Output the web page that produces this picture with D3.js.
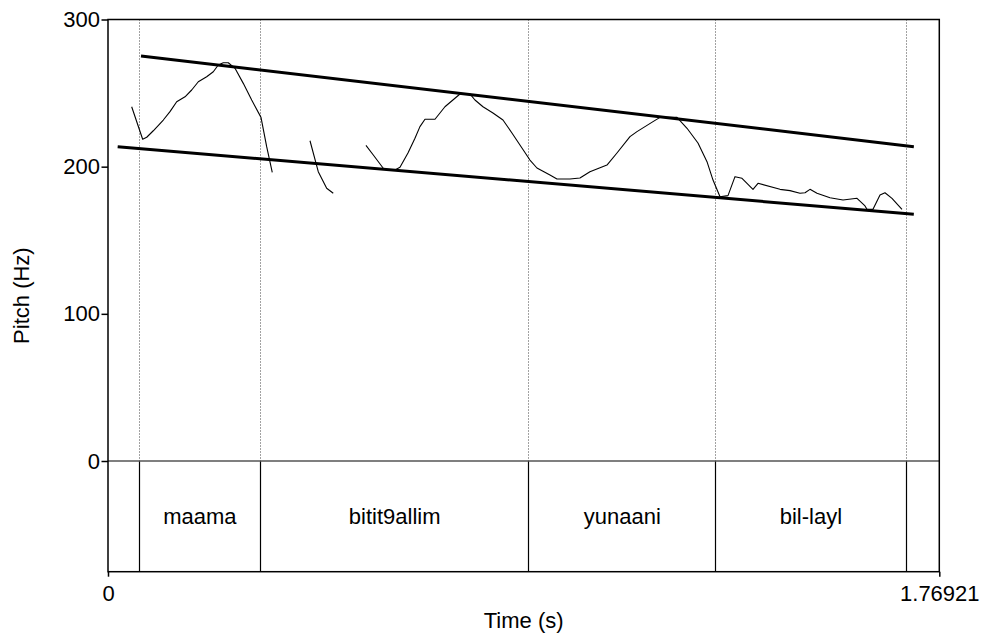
<!DOCTYPE html>
<html>
<head>
<meta charset="utf-8">
<title>Pitch contour</title>
<script src="https://cdn.jsdelivr.net/npm/d3@7"></script>
<style>
  body { margin: 0; background: #fff; }
  svg text { font-family: "Liberation Sans", Arial, Helvetica, sans-serif; fill: #000; }
</style>
</head>
<body>
<svg id="chart" width="982" height="634"></svg>
<script>
// pitch track, [time (s), pitch (Hz)], one array per voiced stretch
const contour1 = [
  [0.0504, 240.7], [0.0738, 218.6], [0.0824, 220.0], [0.0964, 224.4], [0.1177, 231.7],
  [0.1319, 237.4], [0.1462, 244.1], [0.1639, 247.5], [0.1781, 252.1], [0.1922, 257.7],
  [0.2100, 261.1], [0.2241, 264.5], [0.2347, 269.1], [0.2454, 270.6], [0.2560, 270.6],
  [0.2703, 266.8], [0.2879, 256.6], [0.3058, 245.3], [0.3256, 233.5], [0.3377, 213.6],
  [0.3496, 196.2]
]
const contour2 = [
  [0.4299, 217.6], [0.4475, 196.6], [0.4654, 185.3], [0.4794, 181.9]
]
const contour3 = [
  [0.5490, 214.5], [0.5646, 207.9], [0.5858, 198.9], [0.5958, 197.7], [0.6107, 197.7],
  [0.6214, 199.6], [0.6384, 209.3], [0.6533, 219.3], [0.6639, 227.2], [0.6746, 232.2],
  [0.6959, 232.2], [0.7171, 240.7], [0.7491, 249.4], [0.7597, 249.7], [0.7703, 249.4],
  [0.7810, 245.3], [0.7980, 240.7], [0.8193, 236.5], [0.8406, 231.7], [0.8597, 222.9],
  [0.8810, 212.7], [0.8980, 204.5], [0.9129, 199.1], [0.9406, 194.3], [0.9555, 191.6],
  [0.9831, 191.6], [1.0044, 192.3], [1.0257, 196.6], [1.0619, 201.1], [1.0832, 209.3],
  [1.1109, 220.4], [1.1258, 223.8], [1.1599, 230.6], [1.1748, 233.5], [1.2110, 233.5],
  [1.2323, 226.1], [1.2556, 216.1], [1.2748, 203.4], [1.2876, 190.9], [1.3025, 179.6],
  [1.3195, 180.3], [1.3344, 193.2], [1.3493, 192.1], [1.3727, 184.6], [1.3834, 188.7],
  [1.4302, 184.6], [1.4515, 183.7], [1.4727, 181.9], [1.4834, 182.3], [1.4940, 184.6],
  [1.5089, 181.9], [1.5366, 178.9], [1.5643, 177.3], [1.5941, 178.5], [1.6111, 173.3],
  [1.6153, 171.0], [1.6281, 171.0], [1.6430, 180.7], [1.6536, 182.3], [1.6685, 178.5],
  [1.6898, 171.0]
]
// top-line and baseline declination
const topline = [[0.0702, 275.2], [1.715, 213.6]]
const baseline = [[0.0206, 213.6], [1.715, 167.6]]

// word tier
const boundaries = [0, 0.0666, 0.3245, 0.8959, 1.2932, 1.6988, 1.76921]
const words = ["", "maama", "bitit9allim", "yunaani", "bil-layl", ""]

const yTicks = [0, 100, 200, 300]
const xTicks = [0, 1.76921]

const fs = 22
const frame = {left: 108, right: 939.3, top: 19.5, zero: 461, bottom: 571.7}

const svg = d3.select("#chart")

const x = d3.scaleLinear().domain([0, 1.76921]).range([frame.left, frame.right])
const y = d3.scaleLinear().domain([0, 300]).range([frame.zero, frame.top])
const snap = v => Math.round(v - 0.5) + 0.5

// dotted boundary lines in the pitch area
svg.append("g")
  .selectAll("line")
  .data(boundaries.slice(1, -1))
  .join("line")
    .attr("x1", d => snap(x(d))).attr("x2", d => snap(x(d)))
    .attr("y1", frame.top).attr("y2", frame.zero)
    .attr("stroke", "#444")
    .attr("stroke-width", 1)
    .attr("stroke-dasharray", "1,2")

// solid boundaries in the tier
svg.append("g")
  .selectAll("line")
  .data(boundaries.slice(1, -1))
  .join("line")
    .attr("x1", d => snap(x(d))).attr("x2", d => snap(x(d)))
    .attr("y1", frame.zero).attr("y2", frame.bottom)
    .attr("stroke", "#000")
    .attr("stroke-width", 1.2)

// zero line / tier top
svg.append("line")
  .attr("x1", frame.left).attr("x2", frame.right)
  .attr("y1", y(0)).attr("y2", y(0))
  .attr("stroke", "#555")
  .attr("stroke-width", 1.3)

const line = d3.line().x(d => x(d[0])).y(d => y(d[1]))

svg.append("g")
  .selectAll("path")
  .data([contour1, contour2, contour3])
  .join("path")
    .attr("d", line)
    .attr("fill", "none")
    .attr("stroke", "#000")
    .attr("stroke-width", 1.1)
    .attr("stroke-linejoin", "round")

svg.append("g")
  .selectAll("path")
  .data([topline, baseline])
  .join("path")
    .attr("d", line)
    .attr("fill", "none")
    .attr("stroke", "#000")
    .attr("stroke-width", 3)

// tier labels
svg.append("g")
  .selectAll("text")
  .data(words.map((w, i) => ({w, a: boundaries[i], b: boundaries[i + 1]})).filter(d => d.w))
  .join("text")
    .attr("x", d => (x(d.a) + x(d.b)) / 2)
    .attr("y", (frame.zero + frame.bottom) / 2 + fs * 0.36)
    .attr("text-anchor", "middle")
    .attr("font-size", fs)
    .text(d => d.w)

// frame
svg.append("rect")
  .attr("x", frame.left).attr("y", frame.top)
  .attr("width", frame.right - frame.left).attr("height", frame.bottom - frame.top)
  .attr("fill", "none")
  .attr("stroke", "#000")
  .attr("stroke-width", 1.5)

const yAxis = g => g
  .attr("transform", `translate(${frame.left},0)`)
  .call(d3.axisLeft(y).tickValues(yTicks).tickSize(6.5).tickPadding(1.5))
  .call(g => g.select(".domain").remove())
  .call(g => g.selectAll(".tick line").attr("stroke-width", 1.5))
  .call(g => g.selectAll(".tick text").attr("font-size", fs).attr("font-family", null))

const xAxis = g => g
  .attr("transform", `translate(0,${frame.bottom})`)
  .call(d3.axisBottom(x).tickValues(xTicks).tickFormat(d => d === 0 ? "0" : "1.76921").tickSize(5).tickPadding(8.5))
  .call(g => g.select(".domain").remove())
  .call(g => g.selectAll(".tick line").attr("stroke-width", 1.5))
  .call(g => g.selectAll(".tick text").attr("font-size", fs).attr("font-family", null))

svg.append("g").call(yAxis)
svg.append("g").call(xAxis)

svg.append("text")
  .attr("x", (frame.left + frame.right) / 2)
  .attr("y", 627.7)
  .attr("text-anchor", "middle")
  .attr("font-size", fs)
  .text("Time (s)")

svg.append("text")
  .attr("transform", `translate(29.3,${(frame.top + frame.bottom) / 2}) rotate(-90)`)
  .attr("text-anchor", "middle")
  .attr("font-size", fs)
  .text("Pitch (Hz)")
</script>
</body>
</html>
